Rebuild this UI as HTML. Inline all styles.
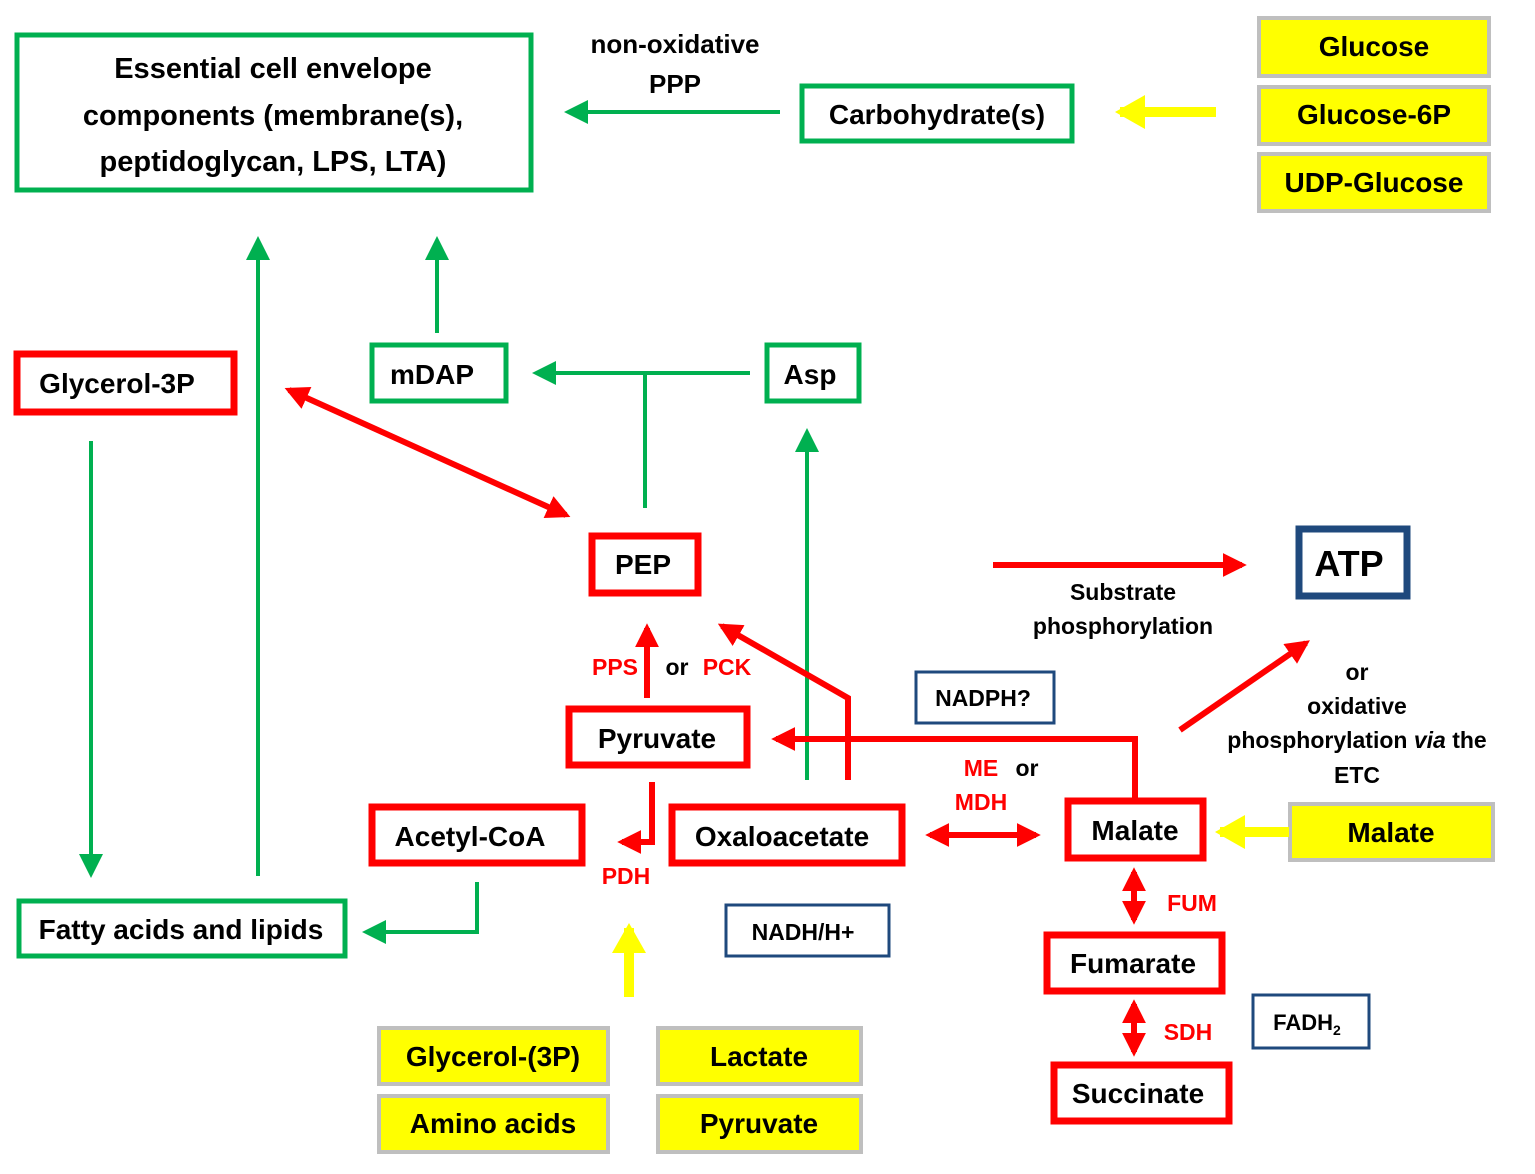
<!DOCTYPE html>
<html><head><meta charset="utf-8"><style>
html,body{margin:0;padding:0;background:#fff}
svg{display:block}
text{font-family:"Liberation Sans",sans-serif;font-weight:bold}
</style></head><body>
<svg width="1535" height="1174" viewBox="0 0 1535 1174" xmlns="http://www.w3.org/2000/svg">
<defs>
<marker id="g" markerWidth="6" markerHeight="6" refX="5" refY="3" orient="auto" markerUnits="strokeWidth"><path d="M0,0 L6,3 L0,6 z" fill="#00b050"/></marker>
<marker id="r" markerWidth="4" markerHeight="4" refX="3.2" refY="2" orient="auto-start-reverse" markerUnits="strokeWidth"><path d="M0,0 L4,2 L0,4 z" fill="#ff0000"/></marker>
<marker id="y" markerWidth="3" markerHeight="3.4" refX="2.5" refY="1.7" orient="auto" markerUnits="strokeWidth"><path d="M0,0 L3,1.7 L0,3.4 z" fill="#ffff00"/></marker>
</defs>
<g fill="none">
<!-- green boxes -->
<rect x="17" y="35" width="514" height="155" stroke="#00b050" stroke-width="5"/>
<rect x="802" y="86" width="270" height="55" stroke="#00b050" stroke-width="5"/>
<rect x="372" y="345" width="134" height="56" stroke="#00b050" stroke-width="5"/>
<rect x="767" y="345" width="92" height="56" stroke="#00b050" stroke-width="5"/>
<rect x="19" y="901" width="326" height="55" stroke="#00b050" stroke-width="5"/>
<!-- red boxes -->
<rect x="17" y="354" width="217" height="58" stroke="#ff0000" stroke-width="7"/>
<rect x="592" y="536" width="106" height="57" stroke="#ff0000" stroke-width="7"/>
<rect x="569" y="709" width="178" height="56" stroke="#ff0000" stroke-width="7"/>
<rect x="372" y="807" width="210" height="56" stroke="#ff0000" stroke-width="7"/>
<rect x="672" y="807" width="230" height="56" stroke="#ff0000" stroke-width="7"/>
<rect x="1068" y="801" width="135" height="57" stroke="#ff0000" stroke-width="7"/>
<rect x="1047" y="935" width="175" height="56" stroke="#ff0000" stroke-width="7"/>
<rect x="1054" y="1065" width="175" height="56" stroke="#ff0000" stroke-width="7"/>
<!-- navy boxes -->
<rect x="1299" y="529" width="108" height="67" stroke="#1f497d" stroke-width="7"/>
<rect x="916" y="672" width="138" height="51" stroke="#1f497d" stroke-width="3"/>
<rect x="726" y="905" width="163" height="51" stroke="#1f497d" stroke-width="3"/>
<rect x="1253" y="995" width="116" height="53" stroke="#1f497d" stroke-width="3"/>
</g>
<!-- yellow boxes -->
<g fill="#ffff00" stroke="#bfbfbf" stroke-width="4">
<rect x="1259" y="18" width="230" height="58"/>
<rect x="1259" y="87" width="230" height="57"/>
<rect x="1259" y="154" width="230" height="57"/>
<rect x="1290" y="804" width="203" height="56"/>
<rect x="379" y="1028" width="229" height="56"/>
<rect x="379" y="1096" width="229" height="56"/>
<rect x="658" y="1028" width="203" height="56"/>
<rect x="658" y="1096" width="203" height="56"/>
</g>
<!-- green connectors -->
<g stroke="#00b050" stroke-width="4" fill="none">
<line x1="780" y1="112" x2="568" y2="112" marker-end="url(#g)"/>
<line x1="258" y1="876" x2="258" y2="240" marker-end="url(#g)"/>
<line x1="437" y1="333" x2="437" y2="240" marker-end="url(#g)"/>
<line x1="91" y1="441" x2="91" y2="874" marker-end="url(#g)"/>
<line x1="645" y1="508" x2="645" y2="373"/>
<line x1="750" y1="373" x2="536" y2="373" marker-end="url(#g)"/>
<line x1="807" y1="780" x2="807" y2="432" marker-end="url(#g)"/>
<polyline points="477,882 477,932 366,932" marker-end="url(#g)"/>
</g>
<!-- red connectors -->
<g stroke="#ff0000" stroke-width="6" fill="none">
<line x1="289" y1="390" x2="566" y2="515" marker-start="url(#r)" marker-end="url(#r)"/>
<line x1="647" y1="698" x2="647" y2="628" marker-end="url(#r)"/>
<polyline points="848,780 848,698 722,626" marker-end="url(#r)"/>
<polyline points="1135,798 1135,739 776,739" marker-end="url(#r)"/>
<polyline points="652,782 652,842 622,842" marker-end="url(#r)"/>
<line x1="930" y1="835" x2="1036" y2="835" marker-start="url(#r)" marker-end="url(#r)"/>
<line x1="1134" y1="872" x2="1134" y2="920" marker-start="url(#r)" marker-end="url(#r)"/>
<line x1="1134" y1="1004" x2="1134" y2="1052" marker-start="url(#r)" marker-end="url(#r)"/>
<line x1="993" y1="565" x2="1242" y2="565" marker-end="url(#r)"/>
<line x1="1180" y1="730" x2="1306" y2="643" marker-end="url(#r)"/>
</g>
<!-- yellow arrows -->
<g stroke="#ffff00" stroke-width="10" fill="none">
<line x1="1216" y1="112" x2="1120" y2="112" marker-end="url(#y)"/>
<line x1="1289" y1="832" x2="1220" y2="832" marker-end="url(#y)"/>
<line x1="629" y1="997" x2="629" y2="928" marker-end="url(#y)"/>
</g>
<!-- text -->
<g fill="#000" text-anchor="middle" font-size="29">
<text x="273" y="78">Essential  cell envelope</text>
<text x="273" y="125">components  (membrane(s),</text>
<text x="273" y="171">peptidoglycan,  LPS, LTA)</text>
<text x="937" y="124" font-size="28">Carbohydrate(s)</text>
<text x="1374" y="56" font-size="28">Glucose</text>
<text x="1374" y="124" font-size="28">Glucose-6P</text>
<text x="1374" y="192" font-size="28">UDP-Glucose</text>
<text x="675" y="53" font-size="26">non-oxidative</text>
<text x="675" y="93" font-size="26">PPP</text>
<text x="117" y="393" font-size="28">Glycerol-3P</text>
<text x="432" y="384" font-size="28">mDAP</text>
<text x="810" y="384" font-size="28">Asp</text>
<text x="643" y="574" font-size="28">PEP</text>
<text x="1349" y="576" font-size="36">ATP</text>
<text x="1123" y="600" font-size="23">Substrate</text>
<text x="1123" y="634" font-size="23">phosphorylation</text>
<text x="1357" y="680" font-size="23">or</text>
<text x="1357" y="714" font-size="23">oxidative</text>
<text x="1357" y="748" font-size="23">phosphorylation <tspan font-style="italic">via</tspan> the</text>
<text x="1357" y="783" font-size="23">ETC</text>
<text x="983" y="706" font-size="23">NADPH?</text>
<text x="657" y="748" font-size="28">Pyruvate</text>
<text x="470" y="846" font-size="28">Acetyl-CoA</text>
<text x="782" y="846" font-size="28">Oxaloacetate</text>
<text x="1135" y="840" font-size="28">Malate</text>
<text x="1391" y="842" font-size="28">Malate</text>
<text x="181" y="939" font-size="28">Fatty acids and lipids</text>
<text x="803" y="940" font-size="23">NADH/H+</text>
<text x="1133" y="973" font-size="28">Fumarate</text>
<text x="1307" y="1030" font-size="22">FADH<tspan font-size="14" dy="5">2</tspan></text>
<text x="1138" y="1103" font-size="28">Succinate</text>
<text x="493" y="1066" font-size="28">Glycerol-(3P)</text>
<text x="493" y="1133" font-size="28">Amino acids</text>
<text x="759" y="1066" font-size="28">Lactate</text>
<text x="759" y="1133" font-size="28">Pyruvate</text>
<text x="677" y="675" font-size="23">or</text>
<text x="1027" y="776" font-size="23">or</text>
</g>
<g fill="#ff0000" text-anchor="middle" font-size="23">
<text x="615" y="675">PPS</text>
<text x="727" y="675">PCK</text>
<text x="981" y="776">ME</text>
<text x="981" y="810">MDH</text>
<text x="626" y="884">PDH</text>
<text x="1192" y="911">FUM</text>
<text x="1188" y="1040">SDH</text>
</g>
</svg>
</body></html>
